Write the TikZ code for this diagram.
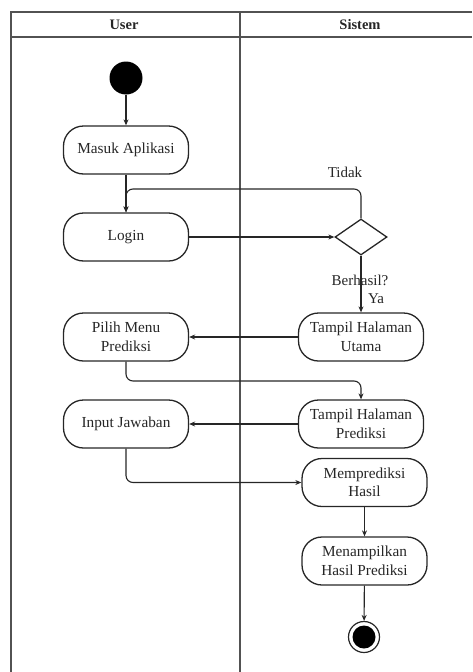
\documentclass[tikz,border=0pt]{standalone}
\usepackage{fontspec}
\setmainfont{Liberation Serif}
\usetikzlibrary{arrows.meta,shapes.geometric}
\definecolor{ink}{gray}{0.15}
\tikzset{
  act/.style={draw=ink, line width=1.3pt, rounded corners=20pt,
    minimum width=125pt, minimum height=48pt, align=center,
    inner sep=2pt, font=\fontsize{15.3}{18.5}\selectfont, text=ink},
  decide/.style={draw=ink, line width=1.3pt, diamond, aspect=1.45,
    minimum width=52pt, minimum height=36pt, inner sep=0pt},
  flow/.style={draw=ink, line width=1.1pt, rounded corners=7pt,
    -{Stealth[length=6pt,width=5pt]}},
  lane/.style={draw=ink!80, line width=1.8pt},
  head/.style={font=\fontsize{14.5}{16}\selectfont\bfseries, text=ink},
  lbl/.style={font=\fontsize{15}{16}\selectfont, text=ink},
}
\begin{document}
\begin{tikzpicture}[x=1pt,y=-1pt]
\useasboundingbox (0,0) rectangle (472,672);

% swimlane frame
\draw[lane] (472,12) -- (11,12) -- (11,672);
\draw[lane] (11,37) -- (472,37);
\draw[lane] (240,12) -- (240,672);
\node[head] (hUser) at (124,24.5) {User};
\node[head] (hSistem) at (360,24.5) {Sistem};

% start / end
\node[circle, fill=black, minimum size=33pt, inner sep=0pt] (start) at (126,78) {};
\node[circle, draw=ink, line width=1.2pt, minimum size=31pt, inner sep=0pt] (finish) at (364,637) {};
\node[circle, fill=black, minimum size=23pt, inner sep=0pt] (finishdot) at (364,637) {};

% user lane
\node[act] (masuk) at (126,150) {Masuk Aplikasi};
\node[act] (login) at (126,237) {Login};
\node[act] (pilih) at (126,337) {Pilih Menu\\Prediksi};
\node[act] (input) at (126,424) {Input Jawaban};

% system lane
\node[decide] (cek) at (361,237) {};
\node[act] (utama) at (361,337) {Tampil Halaman\\Utama};
\node[act] (tprediksi) at (361,424) {Tampil Halaman\\Prediksi};
\node[act] (mprediksi) at (364.5,482.5) {Memprediksi\\Hasil};
\node[act] (hasil) at (364.5,561) {Menampilkan\\Hasil Prediksi};

% flows
\draw[flow] (start) -- (masuk);
\draw[flow] (masuk) -- (login);
\draw[flow] (login) -- (cek);
\draw[flow] (cek.north) -- (361,189) -- (126,189) -- (login.north);
\node[lbl] (tidak) at (345,172) {Tidak};
\draw[flow] (cek.south) -- (utama.north);
\node[lbl] (berhasil) at (360,280) {Berhasil?};
\node[lbl] (ya) at (376,299) {Ya};
\draw[flow] (utama) -- (pilih);
\draw[flow] (pilih.south) -- (126,381) -- (361,381) -- (tprediksi.north);
\draw[flow] (tprediksi) -- (input);
\draw[flow] (input.south) -- (126,482.5) -- (mprediksi.west);
\draw[flow] (mprediksi) -- (hasil);
\draw[flow] (hasil) -- (finish);
\end{tikzpicture}
\end{document}
